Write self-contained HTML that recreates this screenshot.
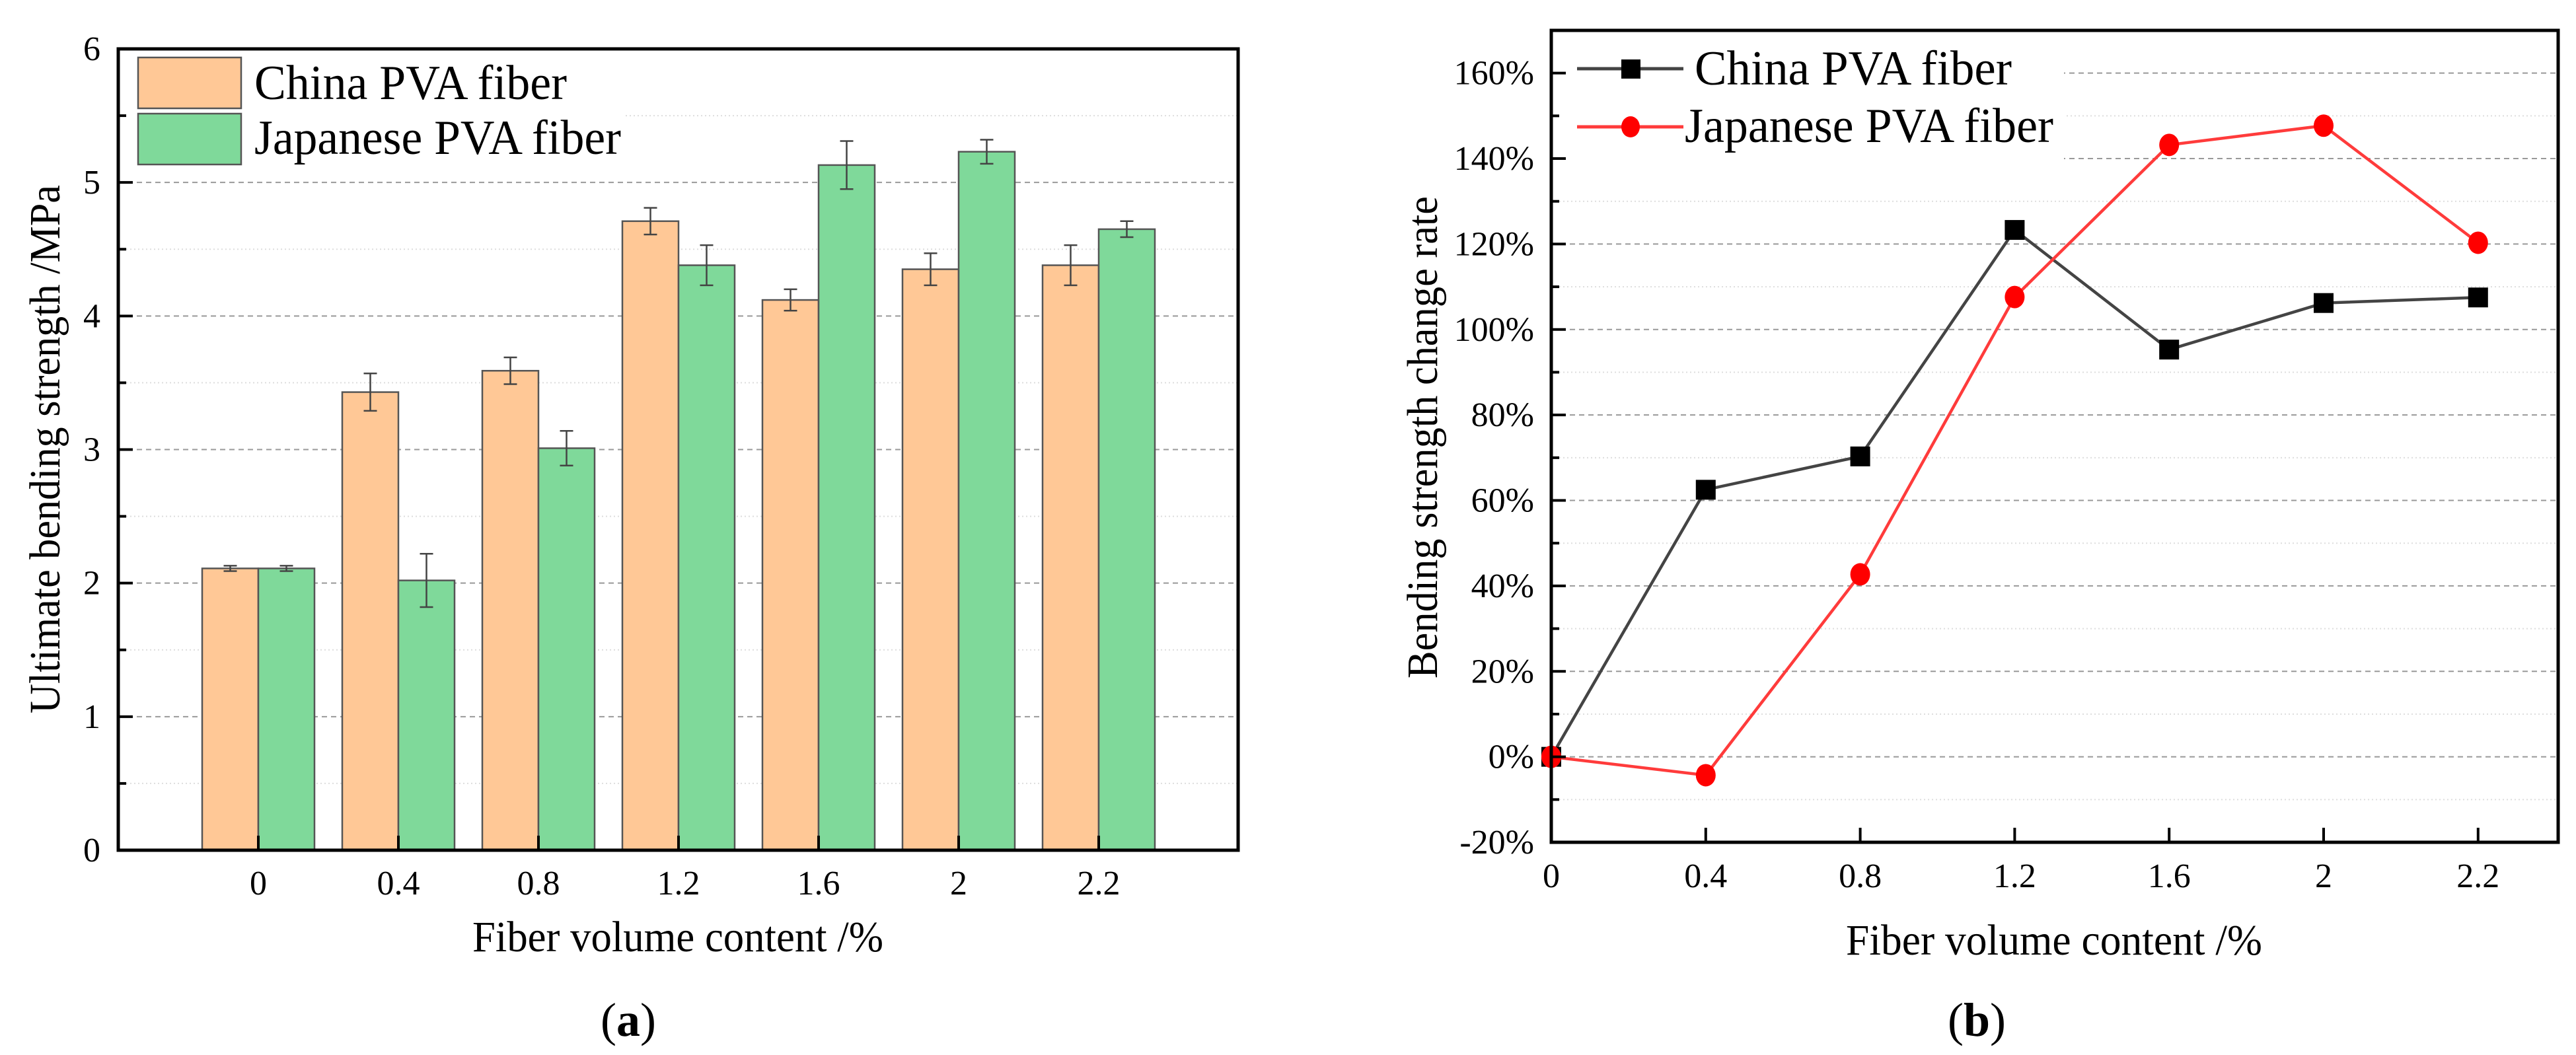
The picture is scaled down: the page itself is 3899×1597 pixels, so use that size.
<!DOCTYPE html>
<html><head><meta charset="utf-8"><style>
html,body{margin:0;padding:0;background:#fff;}
svg{display:block;font-family:"Liberation Serif",serif;}
</style></head><body>
<svg id="fig" width="3899" height="1597" viewBox="0 0 3899 1597" xmlns="http://www.w3.org/2000/svg">
<g id="ca"></g>
<g id="cb"></g>
</svg>
<script>
const categories = ["0","0.4","0.8","1.2","1.6","2","2.2"];
const chinaStrength = [2.11,3.43,3.59,4.71,4.12,4.35,4.38];
const japanStrength = [2.11,2.02,3.01,4.38,5.13,5.23,4.65];
const chinaErr = [0.02,0.14,0.10,0.10,0.08,0.12,0.15];
const japanErr = [0.02,0.20,0.13,0.15,0.18,0.09,0.06];
const yTicksA = [0,1,2,3,4,5,6];
const categoriesB = ["0","0.4","0.8","1.2","1.6","2","2.2"];
const chinaRate = [0,62.5,70.3,123.3,95.3,106.2,107.5];
const japanRate = [0,-4.3,42.7,107.6,143.2,147.7,120.3];
const yTicksB = [-20,0,20,40,60,80,100,120,140,160];

const NS="http://www.w3.org/2000/svg";
function mk(parent,tag,attrs,text){const e=document.createElementNS(NS,tag);for(const k in attrs)e.setAttribute(k,attrs[k]);if(text!==undefined)e.textContent=text;parent.appendChild(e);return e;}

const A=document.getElementById('ca');
const aL=179,aR=1874,aT=74,aB=1287;
const yA=v=>aB-(v/6)*(aB-aT);
const xA=i=>391+i*212;
const bw=85;
for(let v=0.5;v<6;v+=1){const l=mk(A,'line',{x1:aL,x2:aR,y1:yA(v),y2:yA(v),stroke:'#ddd','stroke-width':2,'stroke-dasharray':'2 4'});

}
yTicksA.forEach(v=>{if(v>0&&v<6){const l=mk(A,'line',{x1:aL,x2:aR,y1:yA(v),y2:yA(v),stroke:'#999','stroke-width':2,'stroke-dasharray':'8 6'});

}});
mk(A,'rect',{x:aL+4,y:aT+4,width:760,height:190,fill:'#fff'});
categories.forEach((c,i)=>{
 const cx=xA(i);
 const b1=mk(A,'rect',{x:cx-bw,y:yA(chinaStrength[i]),width:bw,height:aB-yA(chinaStrength[i]),fill:'#ffc896',stroke:'#555','stroke-width':2.5});
 
 
 const b2=mk(A,'rect',{x:cx,y:yA(japanStrength[i]),width:bw,height:aB-yA(japanStrength[i]),fill:'#7fd99a',stroke:'#555','stroke-width':2.5});
 
 
 [[cx-bw/2,chinaStrength[i],chinaErr[i]],[cx+bw/2,japanStrength[i],japanErr[i]]].forEach(([x,v,e])=>{
  const g=mk(A,'g',{stroke:'#444','stroke-width':2.5,fill:'none'});
  
  
  mk(g,'line',{x1:x,x2:x,y1:yA(v+e),y2:yA(v-e)});
  mk(g,'line',{x1:x-10,x2:x+10,y1:yA(v+e),y2:yA(v+e)});
  mk(g,'line',{x1:x-10,x2:x+10,y1:yA(v-e),y2:yA(v-e)});
 });
 const t=mk(A,'line',{x1:cx,x2:cx,y1:aB,y2:aB-22,stroke:'#000','stroke-width':4});
 
 
 const lb=mk(A,'text',{x:cx,y:1354,'font-size':52,'text-anchor':'middle'},c);
 
 
});
mk(A,'rect',{x:aL,y:aT,width:aR-aL,height:aB-aT,fill:'none',stroke:'#000','stroke-width':5});
yTicksA.forEach(v=>{
 const t=mk(A,'line',{x1:aL,x2:aL+22,y1:yA(v),y2:yA(v),stroke:'#000','stroke-width':4});
 
 
 const lb=mk(A,'text',{x:152,y:yA(v)+17,'font-size':52,'text-anchor':'end'},String(v));
 
 
});
for(let v=0.5;v<6;v+=1){mk(A,'line',{x1:aL,x2:aL+12,y1:yA(v),y2:yA(v),stroke:'#000','stroke-width':4});}
</script>
<script>
(function(){
const A=document.getElementById('ca');
const s1=mk(A,'rect',{x:209,y:87,width:156,height:77,fill:'#ffc896',stroke:'#555','stroke-width':2.5});


const s2=mk(A,'rect',{x:209,y:172,width:156,height:77,fill:'#7fd99a',stroke:'#555','stroke-width':2.5});


const t1=mk(A,'text',{x:385,y:150,'font-size':74,textLength:473,lengthAdjust:'spacingAndGlyphs'},'China PVA fiber');


const t2=mk(A,'text',{x:385,y:233,'font-size':74,textLength:555,lengthAdjust:'spacingAndGlyphs'},'Japanese PVA fiber');


const yt=mk(A,'text',{x:0,y:0,'font-size':66,'text-anchor':'middle',transform:'translate(90,680) rotate(-90)',textLength:800,lengthAdjust:'spacingAndGlyphs'},'Ultimate bending strength /MPa');


const xt=mk(A,'text',{x:1026,y:1440,'font-size':66,'text-anchor':'middle',textLength:622,lengthAdjust:'spacingAndGlyphs'},'Fiber volume content /%');


const pa=mk(A,'text',{x:951,y:1568,'font-size':72,'text-anchor':'middle'});


mk(pa,'tspan',{},'(');mk(pa,'tspan',{'font-weight':'bold'},'a');mk(pa,'tspan',{},')');

const B=document.getElementById('cb');
const bL=2348,bR=3872,bT=46,bB=1275;
const xB=i=>bL+i*233.8;
const yB=v=>bB-((v+20)/190)*(bB-bT);
for(let v=-10;v<170;v+=20){const l=mk(B,'line',{x1:bL,x2:bR,y1:yB(v),y2:yB(v),stroke:'#ddd','stroke-width':2,'stroke-dasharray':'2 4'});

}
yTicksB.forEach(v=>{if(v>-20){const l=mk(B,'line',{x1:bL,x2:bR,y1:yB(v),y2:yB(v),stroke:'#999','stroke-width':2,'stroke-dasharray':'8 6'});

}});
mk(B,'rect',{x:bL+4,y:bT+4,width:772,height:200,fill:'#fff'});
function series(vals,color,name,marker){
 const pts=vals.map((v,i)=>xB(i)+','+yB(v)).join(' ');
 const pl=mk(B,'polyline',{points:pts,fill:'none',stroke:color,'stroke-width':4.5});
 
 
 vals.forEach((v,i)=>{
  let m;
  if(marker==='sq') m=mk(B,'rect',{x:xB(i)-15,y:yB(v)-15,width:30,height:30,fill:'#000'});
  else m=mk(B,'ellipse',{cx:xB(i),cy:yB(v),rx:15,ry:17,fill:'#f00'});
  
  
 });
}
series(chinaRate,'#444','china','sq');
series(japanRate,'#ff3b3b','japanese','ci');
mk(B,'rect',{x:bL,y:bT,width:bR-bL,height:bB-bT,fill:'none',stroke:'#000','stroke-width':5});
yTicksB.forEach(v=>{
 mk(B,'line',{x1:bL,x2:bL+22,y1:yB(v),y2:yB(v),stroke:'#000','stroke-width':4});
 const lb=mk(B,'text',{x:2322,y:yB(v)+17,'font-size':52,'text-anchor':'end'},v+'%');
 
 
});
for(let v=-10;v<170;v+=20){mk(B,'line',{x1:bL,x2:bL+12,y1:yB(v),y2:yB(v),stroke:'#000','stroke-width':4});}
categoriesB.forEach((c,i)=>{
 mk(B,'line',{x1:xB(i),x2:xB(i),y1:bB,y2:bB-22,stroke:'#000','stroke-width':4});
 const lb=mk(B,'text',{x:xB(i),y:1343,'font-size':52,'text-anchor':'middle'},c);
 
 
});
const l1=mk(B,'line',{x1:2387,x2:2548,y1:104,y2:104,stroke:'#444','stroke-width':5});


mk(B,'rect',{x:2454,y:90,width:29,height:29,fill:'#000'});
const l2=mk(B,'line',{x1:2387,x2:2548,y1:192,y2:192,stroke:'#ff3b3b','stroke-width':5});


mk(B,'ellipse',{cx:2468,cy:192,rx:14,ry:16,fill:'#f00'});
const bt1=mk(B,'text',{x:2565,y:128,'font-size':74,textLength:480,lengthAdjust:'spacingAndGlyphs'},'China PVA fiber');


const bt2=mk(B,'text',{x:2550,y:215,'font-size':74,textLength:558,lengthAdjust:'spacingAndGlyphs'},'Japanese PVA fiber');


const byt=mk(B,'text',{x:0,y:0,'font-size':66,'text-anchor':'middle',transform:'translate(2175,662) rotate(-90)',textLength:730,lengthAdjust:'spacingAndGlyphs'},'Bending strength change rate');


const bxt=mk(B,'text',{x:3109,y:1445,'font-size':66,'text-anchor':'middle',textLength:630,lengthAdjust:'spacingAndGlyphs'},'Fiber volume content /%');


const pb=mk(B,'text',{x:2992,y:1568,'font-size':72,'text-anchor':'middle'});


mk(pb,'tspan',{},'(');mk(pb,'tspan',{'font-weight':'bold'},'b');mk(pb,'tspan',{},')');
})();
</script>
</body></html>
